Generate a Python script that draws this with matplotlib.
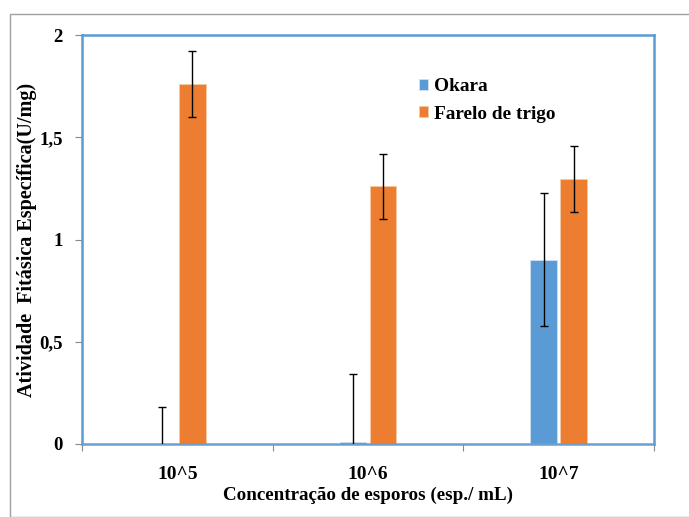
import matplotlib
matplotlib.use("Agg")
import matplotlib.pyplot as plt
import numpy as np
from matplotlib.patches import Rectangle

categories = ["10^5", "10^6", "10^7"]
okara = [0.0, 0.01, 0.90]
okara_err = [0.18, 0.33, 0.325]
farelo = [1.76, 1.26, 1.295]
farelo_err = [0.16, 0.16, 0.16]
yticks = [0, 0.5, 1, 1.5, 2]
ytick_labels = ["0", "0,5", "1", "1,5", "2"]

plt.rcParams['font.family'] = ['Liberation Serif', 'DejaVu Serif']
plt.rcParams['font.weight'] = 'bold'

fig = plt.figure(figsize=(6.89, 5.17), dpi=100)
ax = fig.add_axes([82/689, 1-444/517, (654-82)/689, (444-35)/517])

x = np.arange(len(categories))
w = 0.141
off = 0.0785
blue = '#5B9BD5'
orange = '#ED7D31'
ax.bar(x - off, okara, w, color=blue, edgecolor='#CFE0F2', linewidth=0.6, label='Okara', zorder=2)
ax.bar(x + off, farelo, w, color=orange, edgecolor='#F7C9A8', linewidth=0.6, label='Farelo de trigo', zorder=2)
ax.errorbar(x - off, okara, yerr=okara_err, fmt='none', ecolor='black', elinewidth=1, capsize=3, capthick=1, zorder=3)
ax.errorbar(x + off, farelo, yerr=farelo_err, fmt='none', ecolor='black', elinewidth=1, capsize=3, capthick=1, zorder=3)

ax.set_xlim(-0.5, 2.5)
ax.set_ylim(0, 2)
ax.set_yticks(yticks)
ax.set_yticklabels(ytick_labels, fontsize=13.5, fontweight='bold')
ax.set_xticks([-0.5, 0.5, 1.5, 2.5])
ax.set_xticklabels([])
ax.set_xticks(x, minor=True)
ax.set_xticklabels(categories, minor=True, fontsize=14, fontweight='bold')
ax.tick_params(axis='x', which='minor', length=0, pad=16)
ax.tick_params(axis='x', which='major', length=5, color='#888888', direction='out')
ax.tick_params(axis='y', length=5, color='#888888', direction='out', pad=9)

for s in ax.spines.values():
    s.set_color(blue)
    s.set_linewidth(1.8)
ax.spines['bottom'].set_color('#6A9FD0')

ax.set_xlabel("Concentração de esporos (esp./ mL)", fontsize=13.7, fontweight='bold')
ax.xaxis.set_label_coords(0.5, -(495-444)/409, transform=ax.transAxes)
ax.xaxis.label.set_va('center')
ax.set_ylabel("Atividade  Fitásica Específica(U/mg)", fontsize=14.5, fontweight='bold')
ax.yaxis.set_label_coords((27-82)/572, 0.499, transform=ax.transAxes)
ax.yaxis.label.set_va('center')

leg = ax.legend(loc='upper left', bbox_to_anchor=(0.558, 0.937), frameon=False,
                prop={'family': 'Liberation Serif', 'weight': 'bold', 'size': 13.9},
                handlelength=0.5, handleheight=0.5, handletextpad=0.3, labelspacing=0.55)

fig.patches.append(Rectangle((10/689, 0), 1, 1-14/517, transform=fig.transFigure,
                             fill=False, edgecolor='#A0A0A0', linewidth=1))

fig.savefig("out.png", dpi=100)
